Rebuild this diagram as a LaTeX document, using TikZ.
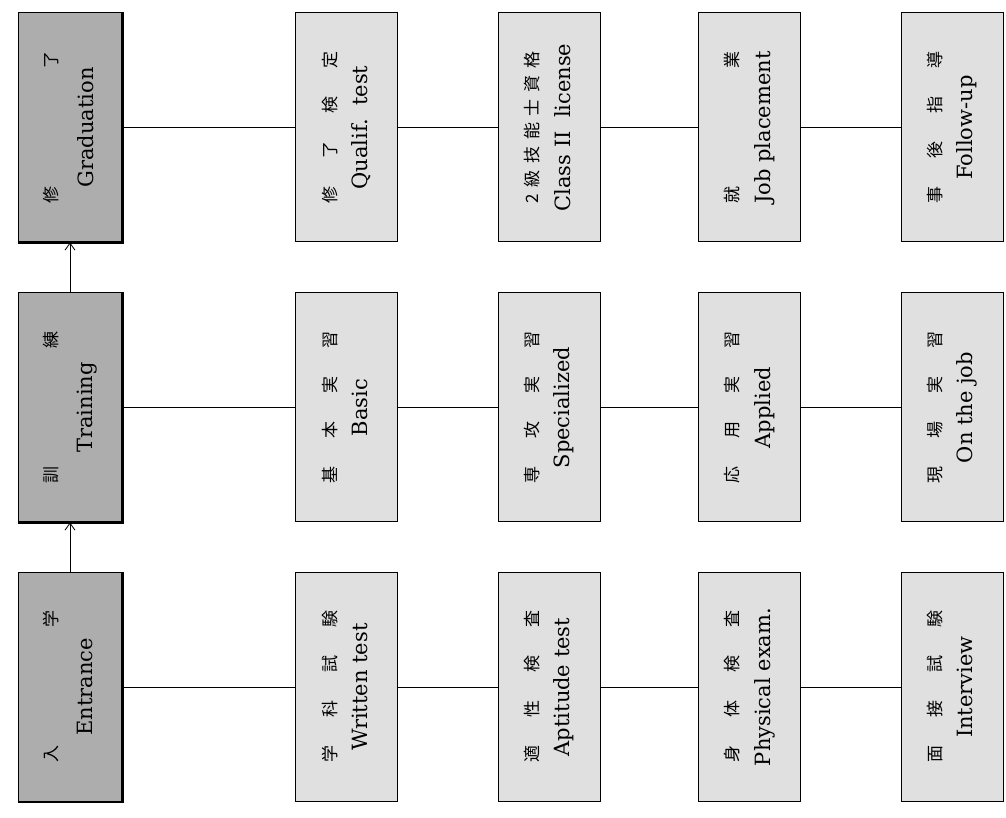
\documentclass[tikz,border=0pt]{standalone}
\usepackage{fontspec}
\setmainfont{DejaVu Serif}
\newfontfamily\jpfont{Noto Sans CJK JP}
\usetikzlibrary{arrows.meta}
\newcommand{\jline}[1]{{\jpfont\fontsize{17}{17}\selectfont\makebox[152pt]{#1}}}
\newcommand{\twolines}[3]{\begin{tabular}{@{}c@{}}\jline{#1}\\[#3]\fontsize{21}{22}\selectfont #2\end{tabular}}
\tikzset{
  hdrbox/.style={draw, line width=1pt, fill=black!32, minimum width=229pt, minimum height=104pt, rotate=90, inner sep=0pt},
  colbox/.style={draw, line width=1pt, fill=black!12, minimum width=229pt, minimum height=102pt, rotate=90, inner sep=0pt},
  link/.style={line width=0.8pt},
  uparrow/.style={line width=0.8pt, -{Straight Barb[length=7pt,width=10pt]}},
  edge/.style={line width=2.6pt}
}
\begin{document}
\begin{tikzpicture}[x=1pt,y=1pt]
\useasboundingbox[fill=white] (0,0) rectangle (1006,818);
% header column
\node[hdrbox] (grad) at (70,690.5) {\twolines{修\hfill 了}{Graduation}{16pt}};
\node[hdrbox] (trai) at (70,410.5) {\twolines{訓\hfill 練}{Training}{16pt}};
\node[hdrbox] (entr) at (70,131) {\twolines{入\hfill 学}{Entrance}{16pt}};
\foreach \n in {grad,trai,entr}{\draw[edge] (\n.north west) -- (\n.south west) -- (\n.south east);}
% graduation row
\node[colbox] (g2) at (346.5,690.5) {\twolines{修\hfill 了\hfill 検\hfill 定}{Qualif.\ \ test}{12pt}};
\node[colbox] (g3) at (549,690.5) {\twolines{2\hfill 級\hfill 技\hfill 能\hfill 士\hfill 資\hfill 格}{Class II\ \ license}{12pt}};
\node[colbox] (g4) at (749.5,690.5) {\twolines{就\hfill 業}{Job placement}{12pt}};
\node[colbox] (g5) at (952,690.5) {\twolines{事\hfill 後\hfill 指\hfill 導}{Follow-up}{12pt}};
% training row
\node[colbox] (t2) at (346.5,410.5) {\twolines{基\hfill 本\hfill 実\hfill 習}{Basic}{12pt}};
\node[colbox] (t3) at (549,410.5) {\twolines{専\hfill 攻\hfill 実\hfill 習}{Specialized}{12pt}};
\node[colbox] (t4) at (749.5,410.5) {\twolines{応\hfill 用\hfill 実\hfill 習}{Applied}{12pt}};
\node[colbox] (t5) at (952,410.5) {\twolines{現\hfill 場\hfill 実\hfill 習}{On the job}{12pt}};
% entrance row
\node[colbox] (e2) at (346.5,131) {\twolines{学\hfill 科\hfill 試\hfill 験}{Written test}{12pt}};
\node[colbox] (e3) at (549,131) {\twolines{適\hfill 性\hfill 検\hfill 査}{Aptitude test}{12pt}};
\node[colbox] (e4) at (749.5,131) {\twolines{身\hfill 体\hfill 検\hfill 査}{Physical exam.}{12pt}};
\node[colbox] (e5) at (952,131) {\twolines{面\hfill 接\hfill 試\hfill 験}{Interview}{12pt}};
% connectors
\draw[link] (grad.south) -- (g2.north) (g2.south) -- (g3.north) (g3.south) -- (g4.north) (g4.south) -- (g5.north);
\draw[link] (trai.south) -- (t2.north) (t2.south) -- (t3.north) (t3.south) -- (t4.north) (t4.south) -- (t5.north);
\draw[link] (entr.south) -- (e2.north) (e2.south) -- (e3.north) (e3.south) -- (e4.north) (e4.south) -- (e5.north);
\draw[uparrow] (entr.east) -- (trai.west);
\draw[uparrow] (trai.east) -- (grad.west);
\end{tikzpicture}
\end{document}
